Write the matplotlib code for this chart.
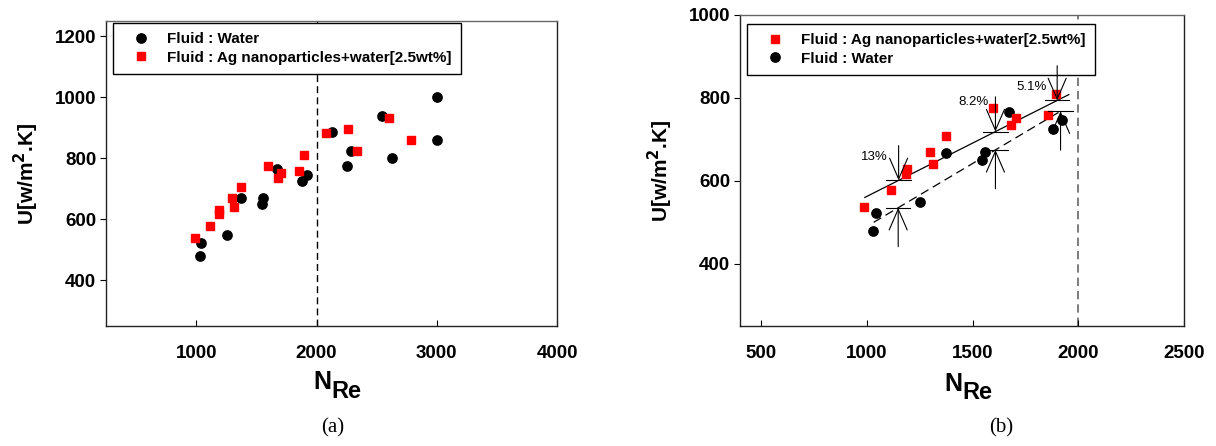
import numpy as np
import matplotlib
matplotlib.use("Agg")
import matplotlib.pyplot as plt

# data (Reynolds number, overall heat transfer coeff.)
re_water = [1029, 1043, 1252, 1375, 1544, 1558, 1671, 1880, 1921,
            2130, 2255, 2283, 2546, 2629, 3002, 3002]
u_water = [479, 522, 548, 668, 650, 669, 766, 724, 746,
           886, 773, 824, 938, 800, 1000, 860]

re_nano = [988, 1112, 1186, 1190, 1298, 1312, 1372, 1596, 1683, 1706, 1857, 1893,
           2078, 2262, 2333, 2601, 2785]
u_nano = [538, 578, 616, 629, 669, 640, 707, 776, 734, 751, 758, 809,
          884, 895, 823, 931, 860]

# linear trend lines in panel (b)
fit_re_nano = [990, 1955]
fit_u_nano = [560, 808]
fit_re_water = [1032, 1916]
fit_u_water = [500, 768]

# percentage annotations in panel (b)
pct_labels = ["13%", "8.2%", "5.1%"]
pct_re_top = [1150, 1608, 1900]
pct_re_bottom = [1148, 1608, 1916]
pct_text_re = [1034, 1503, 1779]
pct_text_u = [657, 789, 826]

LAMINAR_RE = 2000

plt.rcParams["font.family"] = ["Liberation Sans", "DejaVu Sans"]

fig = plt.figure(figsize=(12.16, 4.46), dpi=100)
ax_a = fig.add_axes([0.0872, 0.2691, 0.3709, 0.6839])
ax_b = fig.add_axes([0.6086, 0.2691, 0.3651, 0.6973])

circle_kw = dict(marker="o", color="black", markersize=6.7, linestyle="none")
square_kw = dict(marker="s", color="red", markersize=6.0, linestyle="none")


def style_axes(ax, xlim, ylim, xticks, yticks):
    ax.set_xlim(*xlim)
    ax.set_ylim(*ylim)
    ax.set_xticks(xticks)
    ax.set_yticks(yticks)
    ax.tick_params(axis="x", direction="in", length=4, width=0.8, pad=14,
                   labelsize=13.5)
    ax.tick_params(axis="y", direction="out", length=4, width=0.8, pad=3,
                   labelsize=13.5)
    for lab in ax.get_xticklabels() + ax.get_yticklabels():
        lab.set_fontweight("bold")
    for name, sp in ax.spines.items():
        sp.set_linewidth(1.0)
        sp.set_color("#666666" if name == "top" else "#222222")
    ax.set_ylabel(r"U[w/m$^{\mathbf{2}}$.K]", fontsize=15, fontweight="bold",
                  labelpad=10)
    # N_Re label with the subscript nearly the same size as N
    ax.text(0.5, -0.185, "N", transform=ax.transAxes, ha="right", va="center",
            fontsize=18, fontweight="bold")
    ax.text(0.5, -0.215, "Re", transform=ax.transAxes, ha="left", va="center",
            fontsize=17, fontweight="bold")


legend_kw = dict(loc="upper left", borderaxespad=0, fancybox=False,
                 framealpha=1, edgecolor="black", borderpad=0.6,
                 handlelength=2.5, handletextpad=0.45, labelspacing=0.3,
                 prop={"weight": "bold", "size": 11})

# panel (a)
ax_a.plot(re_water, u_water, label="Fluid : Water", zorder=3, **circle_kw)
ax_a.plot(re_nano, u_nano, label="Fluid : Ag nanoparticles+water[2.5wt%]",
          zorder=4, **square_kw)
ax_a.axvline(LAMINAR_RE, color="black", linestyle=(0, (5, 3)), linewidth=1.0,
             zorder=2)
style_axes(ax_a, (250, 4000), (250, 1250), [1000, 2000, 3000, 4000],
           [400, 600, 800, 1000, 1200])
leg = ax_a.legend(bbox_to_anchor=(0.0155, 0.9934), **legend_kw)
leg.get_frame().set_linewidth(1.0)
leg.set_zorder(10)

# panel (b): only the laminar region
nano_mask = np.array(re_nano) < LAMINAR_RE
water_mask = np.array(re_water) < LAMINAR_RE
ax_b.plot(np.array(re_nano)[nano_mask], np.array(u_nano)[nano_mask],
          label="Fluid : Ag nanoparticles+water[2.5wt%]", zorder=4, **square_kw)
ax_b.plot(np.array(re_water)[water_mask], np.array(u_water)[water_mask],
          label="Fluid : Water", zorder=3, **circle_kw)
ax_b.plot(fit_re_nano, fit_u_nano, color="black", linewidth=0.9, zorder=2)
ax_b.plot(fit_re_water, fit_u_water, color="black", linewidth=0.9,
          linestyle=(0, (7, 4)), zorder=2)
ax_b.axvline(LAMINAR_RE, color="#666666", linestyle=(0, (5, 3)),
             linewidth=1.2, zorder=1)
style_axes(ax_b, (400, 2500), (250, 1000), [500, 1000, 1500, 2000, 2500],
           [400, 600, 800, 1000])
leg = ax_b.legend(bbox_to_anchor=(0.0158, 0.971), **legend_kw)
leg.get_frame().set_linewidth(1.0)
leg.set_zorder(5)

arrow_style = "->,head_length=1.5,head_width=0.65"
bar_half = 58
for lab, xt, xb, tx, ty in zip(pct_labels, pct_re_top, pct_re_bottom,
                               pct_text_re, pct_text_u):
    yt = np.interp(xt, fit_re_nano, fit_u_nano)
    yb = np.interp(xb, fit_re_water, fit_u_water)
    ax_b.plot([xt - bar_half, xt + bar_half], [yt, yt], color="black",
              linewidth=0.8, zorder=6)
    ax_b.plot([xb - bar_half, xb + bar_half], [yb, yb], color="black",
              linewidth=0.8, zorder=6)
    ax_b.annotate("", xy=(xt, yt), xytext=(0, 25), textcoords="offset points",
                  arrowprops=dict(arrowstyle=arrow_style, lw=0.8, color="black",
                                  shrinkA=0, shrinkB=0), zorder=6)
    ax_b.annotate("", xy=(xb, yb), xytext=(0, -28), textcoords="offset points",
                  arrowprops=dict(arrowstyle=arrow_style, lw=0.8, color="black",
                                  shrinkA=0, shrinkB=0), zorder=6)
    ax_b.text(tx, ty, lab, ha="center", va="center", fontsize=9.5, zorder=6)

fig.text(333 / 1216, 1 - 428 / 446, "(a)", ha="center", va="center",
         fontsize=15, family=["Liberation Serif", "DejaVu Serif"])
fig.text(1001 / 1216, 1 - 428 / 446, "(b)", ha="center", va="center",
         fontsize=15, family=["Liberation Serif", "DejaVu Serif"])

fig.savefig("out.png", dpi=100)
